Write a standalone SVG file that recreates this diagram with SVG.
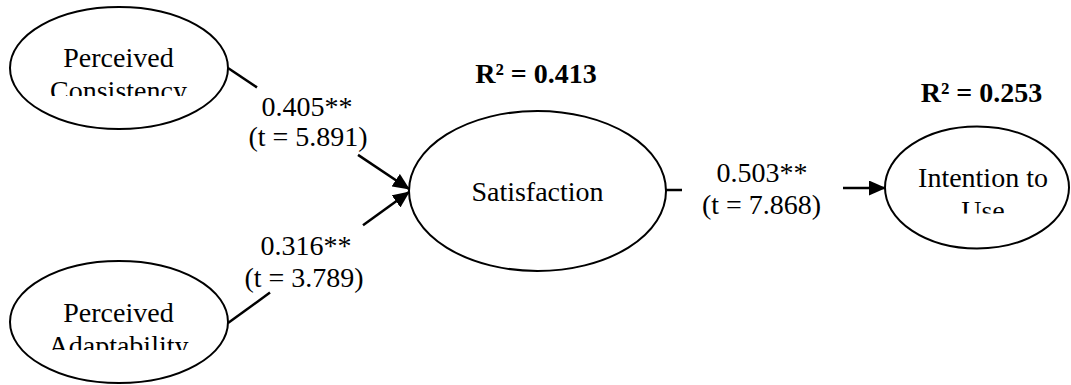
<svg xmlns="http://www.w3.org/2000/svg" width="1071" height="385" viewBox="0 0 1071 385">
  <style>
    .node { fill: #ffffff; stroke: #000000; stroke-width: 2; }
    .lbl { font-family: "Liberation Serif", "Times New Roman", Tinos, serif; font-size: 28px; fill: #000000; text-anchor: middle; }
    .r2 { font-family: "Liberation Serif", "Times New Roman", Tinos, serif; font-size: 28px; font-weight: bold; fill: #000000; text-anchor: middle; }
    .edge { fill: none; stroke: #000000; stroke-width: 2.5; }
  </style>
  <defs>
    <marker id="arrow" viewBox="0 0 17 15" markerWidth="17" markerHeight="15" refX="16" refY="7.5" orient="auto" markerUnits="userSpaceOnUse">
      <path d="M0,0 L17,7.5 L0,15 z" fill="#000000"/>
    </marker>
    <clipPath id="clipPC"><rect x="0" y="0" width="250" height="96"/></clipPath>
    <clipPath id="clipPA"><rect x="0" y="255" width="250" height="95"/></clipPath>
    <clipPath id="clipIU"><rect x="880" y="120" width="191" height="93.5"/></clipPath>
  </defs>

  <rect x="0" y="0" width="1071" height="385" fill="#ffffff"/>

  <g id="connectors">
    <line class="edge" x1="228" y1="68" x2="257" y2="87.4"/>
    <line class="edge" x1="358" y1="154.9" x2="409" y2="189" marker-end="url(#arrow)"/>
    <line class="edge" x1="228" y1="323" x2="270" y2="292.6"/>
    <line class="edge" x1="363" y1="225.3" x2="409" y2="192" marker-end="url(#arrow)"/>
    <line class="edge" x1="666" y1="190" x2="682" y2="190"/>
    <line class="edge" x1="843" y1="188" x2="885" y2="188" marker-end="url(#arrow)"/>
    <text class="lbl" x="307" y="115.5">0.405**</text>
    <text class="lbl" x="308" y="146">(t = 5.891)</text>
    <text class="lbl" x="306" y="255">0.316**</text>
    <text class="lbl" x="304" y="287">(t = 3.789)</text>
    <text class="lbl" x="762" y="182">0.503**</text>
    <text class="lbl" x="761.5" y="214">(t = 7.868)</text>
  </g>

  <g id="perceived-consistency">
    <ellipse class="node" cx="119" cy="68" rx="109" ry="61"/>
    <g clip-path="url(#clipPC)">
      <text class="lbl" x="118.5" y="66.7">Perceived</text>
      <text class="lbl" x="118.5" y="100">Consistency</text>
    </g>
  </g>

  <g id="perceived-adaptability">
    <ellipse class="node" cx="119" cy="322" rx="109" ry="61"/>
    <g clip-path="url(#clipPA)">
      <text class="lbl" x="118.5" y="321.7">Perceived</text>
      <text class="lbl" x="118.5" y="355">Adaptability</text>
    </g>
  </g>

  <g id="satisfaction">
    <ellipse class="node" cx="537.5" cy="191" rx="128.5" ry="80"/>
    <text class="lbl" x="537.5" y="201">Satisfaction</text>
    <text class="r2" x="536" y="82.7">R² = 0.413</text>
  </g>

  <g id="intention-to-use">
    <ellipse class="node" cx="977" cy="187.5" rx="92" ry="61"/>
    <g clip-path="url(#clipIU)">
      <text class="lbl" x="983" y="186.7">Intention to</text>
      <text class="lbl" x="983" y="220">Use</text>
    </g>
    <text class="r2" x="981.5" y="102.3">R² = 0.253</text>
  </g>
</svg>
